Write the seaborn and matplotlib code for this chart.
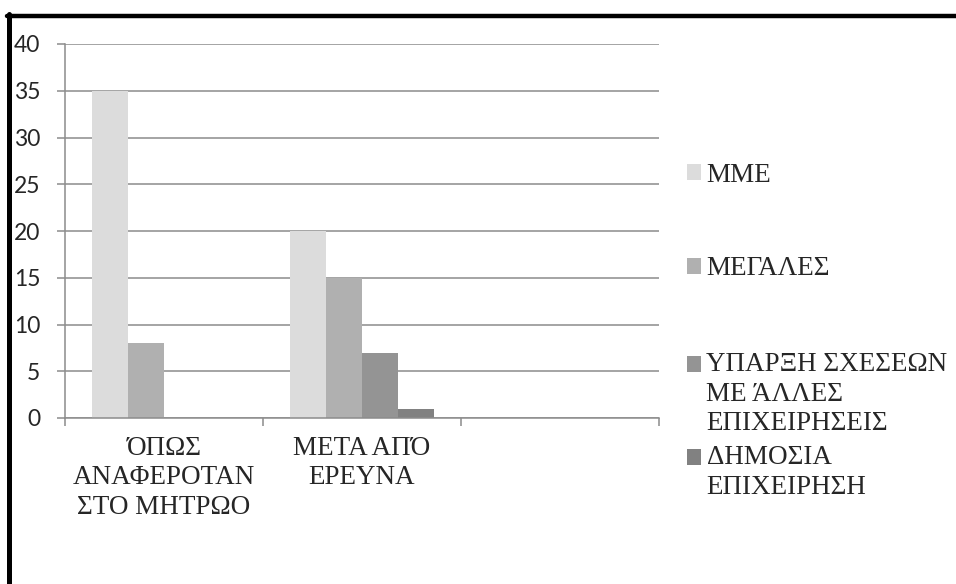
import matplotlib
matplotlib.use("Agg")
import matplotlib.pyplot as plt
import matplotlib.patches as mpatches
from matplotlib.legend_handler import HandlerPatch
from matplotlib.lines import Line2D
import pandas as pd
import seaborn as sns

# categories on the x axis (third slot is empty in the original)
categories = ["ΌΠΩΣ\nΑΝΑΦΕΡΟΤΑΝ\nΣΤΟ ΜΗΤΡΩΟ", "ΜΕΤΑ ΑΠΌ\nΕΡΕΥΝΑ", ""]
series = ["ΜΜΕ", "ΜΕΓΑΛΕΣ", "ΥΠΑΡΞΗ ΣΧΕΣΕΩΝ\nΜΕ ΆΛΛΕΣ\nΕΠΙΧΕΙΡΗΣΕΙΣ", "ΔΗΜΟΣΙΑ\nΕΠΙΧΕΙΡΗΣΗ"]
mme = [35, 20]
megales = [8, 15]
sxeseis = [0, 7]
dimosia = [0, 1]
colors = ["#dcdcdc", "#b0b0b0", "#949494", "#818181"]
y_ticks = [0, 5, 10, 15, 20, 25, 30, 35, 40]

sns.set_style("white")
plt.rcParams["font.family"] = ["Liberation Serif", "DejaVu Serif"]

rows = []
for name, vals in zip(series, [mme, megales, sxeseis, dimosia]):
    for cat, v in zip(categories[:2], vals):
        rows.append({"category": cat, "series": name, "value": v})
df = pd.DataFrame(rows)

fig = plt.figure(figsize=(9.56, 5.84), dpi=100)
ax = fig.add_axes([65 / 956, 1 - 418 / 584, (659 - 65) / 956, (418 - 44) / 584])

sns.barplot(
    data=df, x="category", y="value", hue="series",
    order=categories, hue_order=series, palette=colors,
    width=0.727, saturation=1, linewidth=0, errorbar=None,
    legend=False, ax=ax,
)

grid_c = "#8c8c8c"
ax.set_xlim(-0.5, len(categories) - 0.5)
ax.set_ylim(0, 40)
ax.set_yticks(y_ticks)
ax.yaxis.grid(True, color=grid_c, linewidth=1.1)
ax.set_axisbelow(True)
ax.set_xlabel("")
ax.set_ylabel("")
for side in ["top", "right"]:
    ax.spines[side].set_visible(False)
for side in ["left", "bottom"]:
    ax.spines[side].set_color(grid_c)
    ax.spines[side].set_linewidth(1.1)

ax.tick_params(axis="y", length=5.8, width=1.1, color=grid_c, pad=12,
               labelsize=16.5, left=True)
for lbl in ax.get_yticklabels():
    lbl.set_family(["Lato", "DejaVu Sans"])

ax.set_xticks(range(len(categories)))
ax.set_xticklabels(categories, fontsize=19.5, linespacing=1.23)
ax.tick_params(axis="x", which="major", length=0, pad=13)
ax.set_xticks([i - 0.5 for i in range(len(categories) + 1)], minor=True)
ax.tick_params(axis="x", which="minor", length=5.8, width=1.1, color=grid_c,
               direction="out", bottom=True)


def make_handler(nlines):
    # keep the square level with the first line of a wrapped label
    shift = (nlines - 1) / 2 * 21.6

    def patch_func(legend, orig_handle, xdescent, ydescent, width, height, fontsize):
        return mpatches.Rectangle((-xdescent, -ydescent + shift), width, height)

    return HandlerPatch(patch_func=patch_func)


handles = [mpatches.Patch(facecolor=c, edgecolor="none", label=s)
           for c, s in zip(colors, series)]
hmap = {h: make_handler(s.count("\n") + 1) for h, s in zip(handles, series)}

leg_kw = dict(frameon=False, fontsize=19.5, handlelength=0.52, handleheight=0.52,
              handletextpad=0.2, borderpad=0, borderaxespad=0, loc="center left",
              bbox_transform=fig.transFigure, handler_map=hmap)
leg1 = fig.legend(handles=handles[:2], bbox_to_anchor=(687 / 956, 1 - 222 / 584),
                  labelspacing=2.53, **leg_kw)
leg2 = fig.legend(handles=handles[2:], bbox_to_anchor=(687 / 956, 1 - 426 / 584),
                  labelspacing=0.34, **leg_kw)
for leg in (leg1, leg2):
    for t in leg.get_texts():
        t.set_linespacing(1.23)

# thick black frame along the top and left edge of the picture
fig.add_artist(Line2D([7 / 956, 1], [1 - 15.5 / 584] * 2, color="black",
                      linewidth=3.2, transform=fig.transFigure))
fig.add_artist(Line2D([9 / 956] * 2, [0, 1 - 14 / 584], color="black",
                      linewidth=3.6, transform=fig.transFigure))

fig.savefig("out.png", dpi=100)
